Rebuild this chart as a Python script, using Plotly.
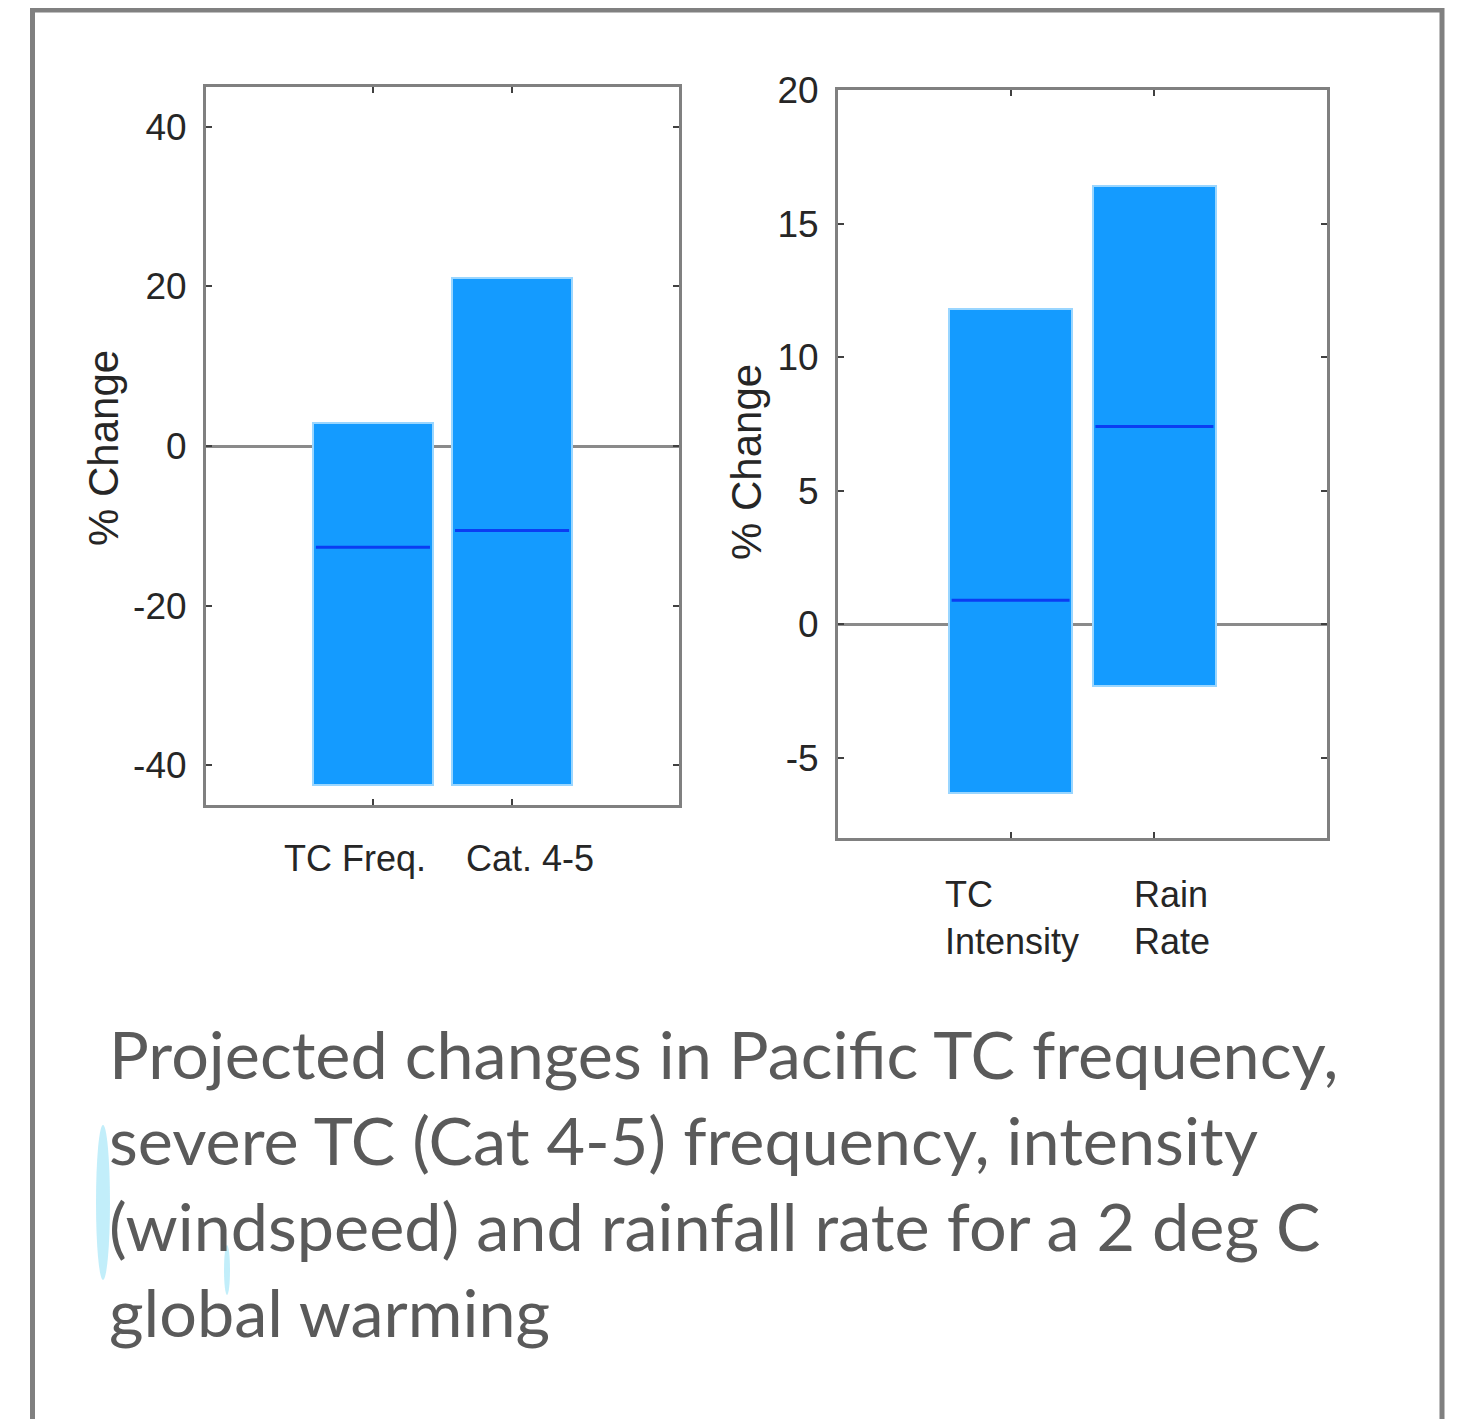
import plotly.graph_objects as go

# ---- data ----
left_categories = ["TC Freq.", "Cat. 4-5"]
left_low = [-42.5, -42.5]
left_high = [2.9, 21.1]
left_median = [-12.7, -10.6]

right_categories = ["TC<br>Intensity", "Rain<br>Rate"]
right_low = [-6.3, -2.3]
right_high = [11.8, 16.4]
right_median = [0.9, 7.4]

left_ticks = [-40, -20, 0, 20, 40]
left_ticktext = ["-40", "-20", "0", "20", "40"]
right_ticks = [-5, 0, 5, 10, 15, 20]
right_ticktext = ["-5", "0", "5", "10", "15", "20"]

caption_lines = [
    "Projected changes in Pacific TC frequency,",
    "severe TC (Cat 4-5) frequency, intensity",
    "(windspeed) and rainfall rate for a 2 deg C",
    "global warming",
]

W, H = 1465, 1419
OFF = 8  # page body margin
BAR_W = 0.86
BAR_COLOR = "#149bff"
EDGE_COLOR = "#9ad6ff"
MED_COLOR = "#0b3df2"
AX_COLOR = "#808080"
TXT = "#262626"
FONT = "Liberation Sans, Arial, sans-serif"

fig = go.Figure()


def add_panel(cats, low, high, med, xa, ya):
    xs = list(range(1, len(cats) + 1))
    fig.add_trace(go.Bar(
        x=xs, y=[h - l for h, l in zip(high, low)], base=low, width=BAR_W,
        marker=dict(color=BAR_COLOR, line=dict(color=EDGE_COLOR, width=2)),
        xaxis=xa, yaxis=ya, showlegend=False, hoverinfo="skip"))
    lx, ly = [], []
    for x, m in zip(xs, med):
        lx += [x - BAR_W / 2 + 0.02, x + BAR_W / 2 - 0.02, None]
        ly += [m, m, None]
    fig.add_trace(go.Scatter(
        x=lx, y=ly, mode="lines", line=dict(color=MED_COLOR, width=3),
        xaxis=xa, yaxis=ya, showlegend=False, hoverinfo="skip"))


add_panel(left_categories, left_low, left_high, left_median, "x", "y")
add_panel(right_categories, right_low, right_high, right_median, "x2", "y2")


def px_x(p):
    return (p - OFF) / W


def px_y(p):
    return 1 - (p - OFF) / H


common_x = dict(range=[-0.2, 3.2], tickvals=[1, 2], showticklabels=False,
                ticks="inside", ticklen=6, tickwidth=2, tickcolor="#404040",
                showline=True, linecolor=AX_COLOR, linewidth=3, mirror="ticks",
                showgrid=False, zeroline=False, fixedrange=True, automargin=False)
common_y = dict(ticks="inside", ticklen=6, tickwidth=2, tickcolor="#404040",
                showline=True, linecolor=AX_COLOR, linewidth=3, mirror="ticks",
                showgrid=False, zeroline=True, zerolinecolor="#8a8a8a",
                zerolinewidth=3, tickfont=dict(family=FONT, size=37, color=TXT),
                ticklabelstandoff=9, fixedrange=True, automargin=False)

fig.update_layout(
    width=W, height=H, margin=dict(l=0, r=0, t=0, b=0, autoexpand=False),
    paper_bgcolor="white", plot_bgcolor="white", bargap=0,
    xaxis=dict(domain=[px_x(206), px_x(679)], anchor="y", **common_x),
    yaxis=dict(domain=[px_y(805), px_y(87)], anchor="x", range=[-45, 45],
               tickvals=left_ticks, ticktext=left_ticktext, **common_y),
    xaxis2=dict(domain=[px_x(838), px_x(1327)], anchor="y2", **common_x),
    yaxis2=dict(domain=[px_y(838), px_y(90)], anchor="x2", range=[-8, 20],
                tickvals=right_ticks, ticktext=right_ticktext, **common_y),
)

ann = []
# left category labels
for i, (c, dx) in enumerate(zip(left_categories, [-18, 18])):
    ann.append(dict(x=i + 1, y=px_y(858), xref="x", yref="paper", text=c,
                    showarrow=False, xshift=dx, xanchor="center", yanchor="middle",
                    font=dict(family=FONT, size=36, color=TXT)))
# right category labels (two lines, left aligned)
for i, (c, dx) in enumerate(zip(right_categories, [-68, -22])):
    ann.append(dict(x=i + 1, y=px_y(918), xref="x2", yref="paper", text=c,
                    showarrow=False, xshift=dx, xanchor="left", yanchor="middle",
                    align="left", font=dict(family=FONT, size=36, color=TXT)))
# y-axis titles
ann.append(dict(x=px_x(103), y=px_y(448), xref="paper", yref="paper",
                text="% Change", textangle=-90, showarrow=False,
                xanchor="center", yanchor="middle",
                font=dict(family=FONT, size=42, color=TXT)))
ann.append(dict(x=px_x(747), y=px_y(462), xref="paper", yref="paper",
                text="% Change", textangle=-90, showarrow=False,
                xanchor="center", yanchor="middle",
                font=dict(family=FONT, size=42, color=TXT)))
# caption
for i, line in enumerate(caption_lines):
    ann.append(dict(x=px_x(107), y=px_y(1053 + i * 86), xref="paper", yref="paper",
                    text=line, showarrow=False, xanchor="left", yanchor="middle",
                    font=dict(family="Lato, sans-serif", size=66.5, color="#5a5a5a")))
fig.update_layout(annotations=ann)

# outer frame
fig.add_shape(type="rect", xref="paper", yref="paper",
              x0=px_x(32.5), x1=px_x(1442), y0=-0.05, y1=px_y(10),
              line=dict(color="#808080", width=5), layer="below")
# faint decorative glints at lower left
fig.add_shape(type="circle", xref="paper", yref="paper",
              x0=px_x(96), x1=px_x(110), y0=px_y(1280), y1=px_y(1125),
              fillcolor="rgba(80,205,240,0.35)", line=dict(width=0), layer="below")
fig.add_shape(type="circle", xref="paper", yref="paper",
              x0=px_x(224), x1=px_x(230), y0=px_y(1295), y1=px_y(1245),
              fillcolor="rgba(80,205,240,0.35)", line=dict(width=0), layer="below")

fig.write_html("out.html")
